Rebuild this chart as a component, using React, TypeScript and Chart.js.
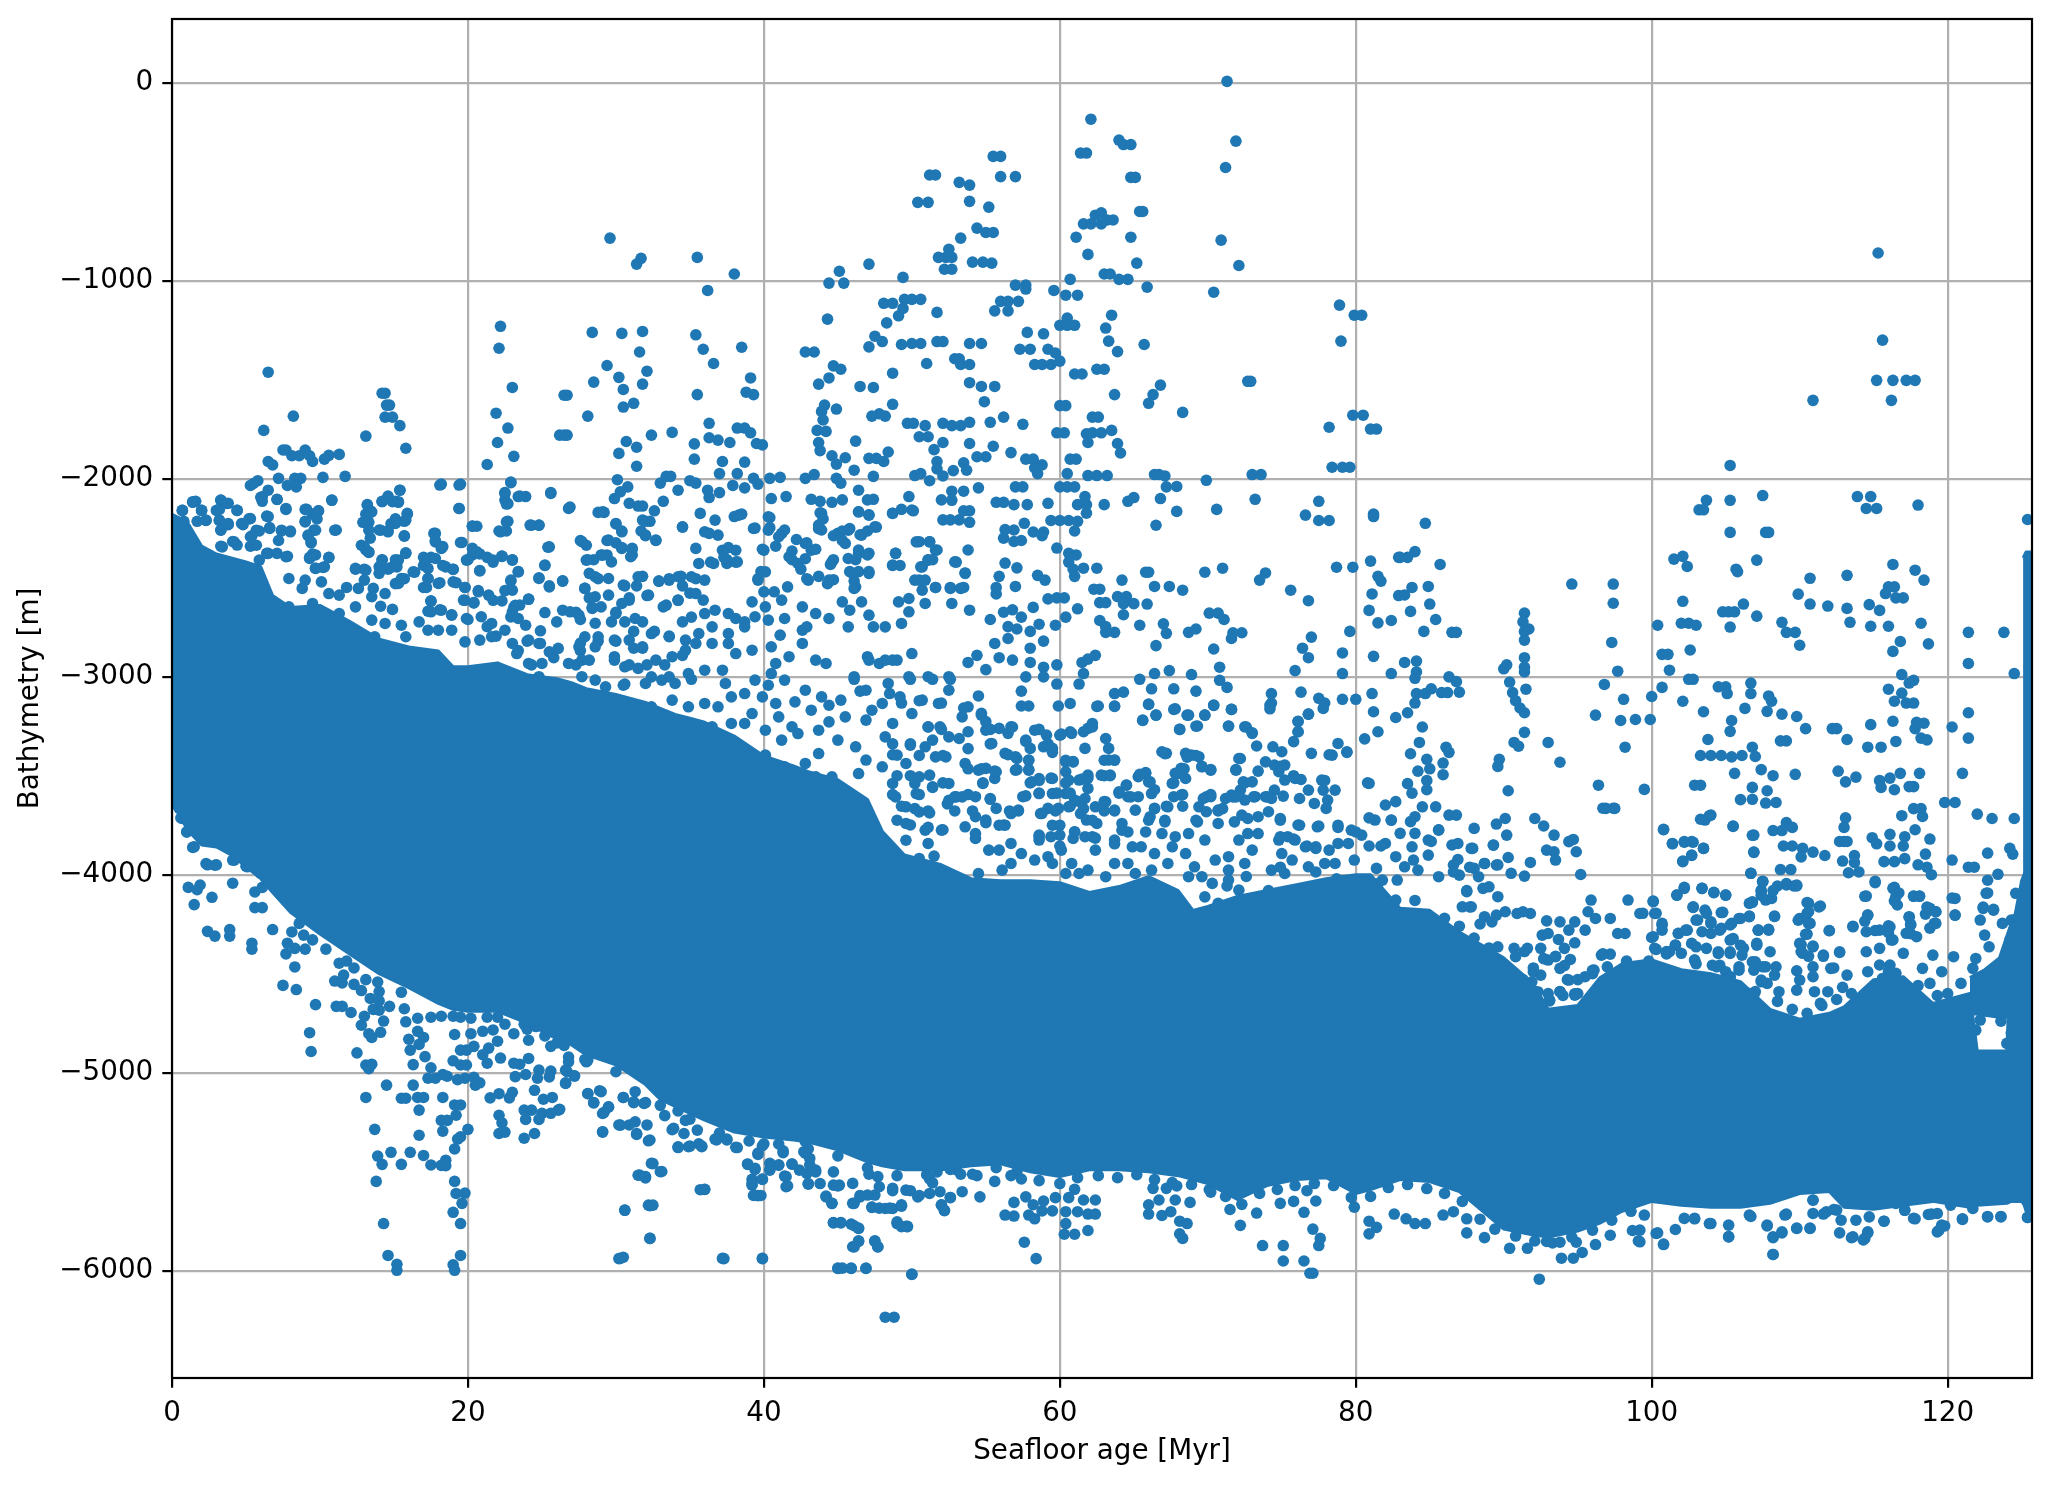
import React, { useEffect, useRef } from "react";
import { Chart, registerables } from "chart.js";

Chart.register(...registerables);

const xTitle = "Seafloor age [Myr]";
const yTitle = "Bathymetry [m]";
const xTickValues = [0, 20, 40, 60, 80, 100, 120];
const yTickValues = [0, -1000, -2000, -3000, -4000, -5000, -6000];

// dense band envelope
const bandAges = [0,1,2,3,4,5,6,6.8,8,10,12,14,16,18,19,20,22,24,26,27,28,30,32,33,34,35,36,38,40,42,43,45,47,48,49.5,52,54,56,58,60,62,64,66,68,69,70,72,74,76,78,80,81,83,85,87,90,92,93,95,96.5,98,100,102,104,106,108,110,112,113,115,117,119,121.5,122,124,124.3,125,125.7];
const bandUpper = [-2180,-2215,-2340,-2380,-2400,-2420,-2445,-2590,-2650,-2640,-2720,-2810,-2850,-2870,-2950,-2950,-2930,-2990,-3010,-3030,-3060,-3090,-3130,-3160,-3190,-3210,-3230,-3300,-3400,-3450,-3480,-3520,-3620,-3780,-3900,-3950,-4020,-4030,-4030,-4040,-4090,-4060,-4010,-4080,-4180,-4160,-4110,-4080,-4050,-4020,-4000,-4000,-4170,-4180,-4290,-4420,-4550,-4680,-4660,-4520,-4450,-4430,-4480,-4500,-4540,-4680,-4730,-4700,-4667,-4530,-4515,-4650,-4600,-4890,-4890,-4300,-4030,-3900];
const bandLower = [-3620,-3770,-3850,-3860,-3900,-3960,-4020,-4090,-4190,-4300,-4400,-4500,-4570,-4650,-4680,-4690,-4690,-4750,-4830,-4860,-4910,-4960,-5060,-5135,-5170,-5205,-5240,-5300,-5325,-5340,-5350,-5390,-5450,-5470,-5490,-5490,-5470,-5460,-5500,-5525,-5490,-5490,-5500,-5520,-5540,-5560,-5640,-5570,-5540,-5530,-5610,-5590,-5540,-5550,-5600,-5790,-5820,-5830,-5800,-5760,-5700,-5650,-5670,-5680,-5680,-5660,-5610,-5600,-5680,-5690,-5670,-5650,-5680,-5670,-5660,-5650,-5650,-5720];

// packed column at the right edge
const edgeAges = [125.1,125.3,125.7];
const edgeUpper = [-2400,-2370,-2370];
const edgeLower = [-5650,-5700,-5720];

// cap above the gap near 123 Myr
const capAges = [121.5,122.5,123.5,124.5];
const capUpper = [-4520,-4480,-4420,-4200];
const capLower = [-4700,-4710,-4720,-4720];

const edgeFuzz: number[][] = [[53,-5490],[54.4,-5520],[55.7,-5480],[57.1,-5500],[58.6,-5545],[60,-5560],[61.2,-5530],[62.6,-5520],[63.9,-5530],[65.2,-5515],[66.4,-5540],[67.6,-5555],[68.9,-5565],[70.1,-5590],[71.2,-5625],[72.3,-5665],[73.5,-5610],[74.7,-5590],[75.9,-5570],[77.2,-5560],[78.5,-5570],[79.7,-5630],[81,-5625],[82.2,-5580],[83.5,-5565],[84.8,-5585],[86,-5610],[87.2,-5650],[88.4,-5740],[89.4,-5790],[90.8,-5825],[92.1,-5850],[93.3,-5860],[94.6,-5830],[96,-5795],[97.3,-5745],[98.6,-5700],[22,-4720],[24,-4780],[26,-4850],[28,-4945],[30,-4995],[33,-5165],[35,-5235],[37,-5305],[39,-5345],[41,-5360],[43,-5385],[45,-5420],[47,-5480],[49,-5520],[51,-5515],[92,-4490],[93,-4600],[94,-4610],[95,-4600],[96,-4500],[108.5,-4640],[109.5,-4680],[110.5,-4700],[111.5,-4660],[112.5,-4630],[113.5,-4600],[119.3,-4610],[120,-4600],[116,-4490],[118,-4560],[105,-4490],[107,-4590],[101,-4400],[103,-4450],[84,-4130],[86,-4220],[88,-4320],[89,-4370],[122.2,-4734],[121.9,-4785],[124,-4852],[124.3,-4800],[123.6,-4740]];

const shallowYoung: number[][] = [[29.6,-785],[31.7,-887],[31.4,-916],[35.5,-882],[22.2,-1230],[22.1,-1341],[28.4,-1261],[30.4,-1266],[31.8,-1256],[31.6,-1360],[29.4,-1428],[30.2,-1488],[32.1,-1457],[28.5,-1512],[31.8,-1522],[30.5,-1549],[23,-1539],[26.7,-1578],[26.5,-1578],[31.2,-1619],[30.5,-1638],[21.9,-1669],[28.1,-1684],[22.7,-1744],[22,-1817],[23.1,-1887],[21.3,-1928],[26.2,-1780],[26.5,-1780],[26.7,-1780],[32.4,-1780],[33.8,-1766],[30.7,-1812],[31.4,-1841],[30.2,-1872],[31.4,-1937],[35.4,-1273],[35.5,-1575],[35.3,-1824],[35.3,-1901],[6.5,-1462],[14.2,-1568],[14.4,-1568],[14.5,-1628],[14.7,-1628],[14.4,-1689],[14.9,-1689],[15.4,-1732],[15.8,-1846],[13.1,-1785],[8.2,-1684],[6.2,-1756],[7.5,-1855],[7.7,-1855],[9,-1855],[9.3,-1884],[8.1,-1884],[8.6,-1884],[10.6,-1882],[10.3,-1901],[11.3,-1877],[9.5,-1913],[6.5,-1913],[6.8,-1930],[7.2,-1998],[8.3,-1998],[8.7,-1998],[10.2,-1993],[11.7,-1988],[5.3,-2034],[5.8,-2010],[6.5,-2058],[7.8,-2034],[8.4,-2041],[6,-2094],[6.1,-2114],[7.1,-2104],[10.8,-2109],[7.7,-2155],[9,-2155],[9.9,-2162],[9.5,-2179],[1.4,-2119],[0.7,-2160],[2,-2160],[3.2,-2155],[3.3,-2109],[3.8,-2124],[4.4,-2160],[1.6,-2114],[6.5,-2191],[2.3,-2211],[3.2,-2211],[5.2,-2203],[4.8,-2232],[3.8,-2232],[3.3,-2259],[0.8,-2215],[1.7,-2215],[8,-2264],[7.4,-2264],[6.6,-2247],[5.9,-2264],[5.4,-2288],[9,-2215],[9.8,-2203],[9.6,-2259],[9.2,-2288],[9.4,-2324],[11.1,-2259],[4.1,-2317],[3.3,-2341],[5.3,-2341],[5.7,-2336],[7.2,-2312],[6.5,-2377],[7.1,-2377],[7.8,-2392],[9.3,-2397],[9.7,-2385],[10.6,-2397],[9.7,-2452],[10.3,-2445]];

const shallowMid: number[][] = [[13.2,-2131],[13.4,-2162],[13.1,-2179],[12.9,-2220],[13.3,-2220],[14.2,-2114],[14.6,-2095],[15.1,-2114],[15.4,-2058],[15.3,-2119],[15.9,-2179],[15.1,-2203],[15.7,-2215],[14.8,-2227],[14,-2259],[14.6,-2264],[15.7,-2288],[13.4,-2300],[12.8,-2336],[13.1,-2360],[13.3,-2372],[15.8,-2377],[15.1,-2409],[14.2,-2409],[14,-2445],[14.6,-2457],[15.2,-2445],[16.4,-2472],[15.7,-2505],[15.1,-2530],[12.4,-2457],[13,-2457],[18.2,-2027],[19.5,-2027],[19.4,-2150],[22.9,-2017],[22.5,-2070],[22.7,-2126],[23.4,-2090],[23.9,-2090],[25.6,-2070],[26.9,-2143],[20.3,-2240],[20.6,-2240],[22.7,-2215],[22.1,-2264],[22.6,-2264],[24.3,-2235],[24.8,-2235],[17.7,-2276],[17.8,-2312],[19.5,-2322],[18.3,-2343],[25.4,-2346],[28.8,-2170],[29.2,-2170],[30,-2228],[30.4,-2264],[30.9,-2124],[31.5,-2138],[31.8,-2138],[32,-2215],[32.3,-2215],[32.6,-2162],[31.7,-2264],[32,-2288],[32.7,-2312],[34.5,-2244],[33.2,-2114],[33,-2022],[33.4,-1988],[33.7,-1988],[34.2,-2058],[35,-2010],[35.4,-2022],[30.1,-2005],[30.3,-2066],[29.9,-2100],[30.8,-2041],[27.6,-2312],[28,-2336],[29.4,-2312],[30,-2324],[30.4,-2348],[31.1,-2385],[31.1,-2356],[29.4,-2385],[29,-2385],[28.5,-2409],[28.1,-2409],[23,-2409],[23.4,-2469],[25.2,-2438],[24.8,-2500],[25.5,-2541],[26.4,-2517],[22.9,-2517],[22.5,-2565],[24.1,-2609],[20.3,-2385],[20.8,-2380],[20,-2409],[21.3,-2397],[21.7,-2421],[22.3,-2392],[20.8,-2464],[17,-2397],[17.5,-2397],[17,-2438],[18.3,-2438],[19,-2457],[19.2,-2525],[19.8,-2549],[17.3,-2505],[18.1,-2525],[17,-2549],[20.7,-2565],[21.7,-2614],[19.8,-2614],[20.4,-2626],[17.5,-2619],[17.3,-2669],[18.1,-2662],[18.9,-2687],[23.1,-2650],[22.9,-2698],[23.5,-2638],[28.8,-2505],[27.9,-2554],[28.2,-2602],[28.4,-2650],[27.3,-2674],[27.6,-2711],[28.6,-2730],[30.6,-2541],[31.4,-2541],[31.8,-2493],[32.9,-2517],[33.6,-2505],[34.4,-2493],[34.5,-2541],[32.1,-2590],[30.9,-2602],[30,-2674],[33.4,-2638],[34.2,-2614],[35,-2578],[35.4,-2505],[31.8,-2723],[31.2,-2771],[32.6,-2771],[33.6,-2795],[34.5,-2723],[35.1,-2699],[27.6,-2830],[28.8,-2820],[30,-2820],[31.2,-2856],[31.8,-2856],[29.9,-2916],[30.9,-2940],[32.1,-2940],[33.3,-2940],[34.5,-2892],[30.6,-3037],[32.4,-3001],[33.6,-3001],[35.1,-3013],[27.6,-2868],[28.2,-2916],[27.3,-2940],[25.8,-2904],[24,-2820],[24.9,-2832],[23.4,-2868],[24.3,-2940],[21.3,-2747],[21.9,-2795],[20,-2711]];

const fluffYoung: number[][] = [[0.7,-2160],[1.4,-2116],[2,-2160],[3.3,-2108],[3.7,-2125],[3,-2160],[4.4,-2160],[2.3,-2209],[3.2,-2209],[3.8,-2226],[3.3,-2260],[4.7,-2226],[5.3,-2201],[5.5,-2024],[6.1,-2091],[7.1,-2105],[7.7,-2150],[6.4,-2189],[5.7,-2260],[6.6,-2251],[7.4,-2260],[8,-2268],[5.3,-2293],[4.2,-2319],[3.4,-2344],[4.4,-2335],[2.5,-2386],[6.4,-2377],[7.7,-2394],[5.9,-2411],[10.8,-2108],[9.1,-2155],[9.9,-2162],[9,-2218],[9.7,-2260],[9.2,-2285],[9.4,-2319],[9.5,-2381],[10.6,-2398],[9.3,-2403],[9.7,-2453],[10.2,-2448],[11,-2260],[13.2,-2133],[13.3,-2175],[13.5,-2167],[13,-2218],[14.2,-2116],[14.6,-2088],[15.4,-2058],[15.3,-2116],[14.9,-2116],[15.9,-2175],[15.8,-2209],[15.1,-2226],[14.1,-2260],[14.6,-2268],[15.7,-2290],[13.3,-2260],[13,-2344],[13.3,-2369],[15.8,-2374],[17.8,-2276],[17.8,-2319],[18.2,-2352],[19.6,-2322],[17.2,-2403],[17.8,-2403],[14.2,-2411],[15.3,-2411],[14.8,-2448],[12.4,-2453],[13.1,-2462],[16.3,-2470],[17.3,-2453],[18.5,-2445],[19,-2458],[14,-2478],[15.3,-2529],[15.5,-2504],[13,-2512],[7.9,-2504],[9,-2512],[10.1,-2521],[17.3,-2504],[18,-2529],[19,-2521],[19.8,-2549],[17.2,-2549],[8.8,-2554],[11.8,-2549],[12.6,-2554],[13.6,-2554],[10.6,-2580],[11.3,-2588],[13.5,-2596],[14.4,-2580],[17.5,-2617],[19.7,-2613],[20.4,-2627],[20.7,-2571],[21.4,-2588],[22.3,-2617],[23,-2563],[14.1,-2644],[14.9,-2660],[17.5,-2672],[18.2,-2664],[18.9,-2689],[19.9,-2706],[20.9,-2697],[21.6,-2731],[23.2,-2639],[24.1,-2608],[23,-2672],[23.4,-2706],[23.9,-2740],[13.5,-2714],[14.4,-2731],[15.5,-2740],[16.7,-2723],[17.3,-2765],[18,-2765],[18.9,-2765],[19.8,-2824],[20.8,-2815],[21.6,-2798],[22.5,-2765],[24.9,-2768],[26,-2723],[23,-2832],[23.3,-2883],[24.1,-2815],[24.8,-2832],[26.4,-2664],[25.2,-2676],[26.9,-2672],[25.5,-2874],[26.1,-2857],[24.1,-2933],[25,-2933],[26.8,-2933],[24.8,-3000],[20.3,-2352],[20.6,-2369],[19.9,-2411],[21.7,-2411],[22.3,-2391],[23,-2411],[23.4,-2470],[22.5,-2108],[22.6,-2128],[25.5,-2344],[25.2,-2436],[24.8,-2504],[25.5,-2546],[26.4,-2516],[22.9,-2512],[20.8,-2465],[20.3,-2239],[22.2,-2268],[22.6,-2218],[24.2,-2234],[24.8,-2234],[19.4,-2150],[18.1,-2032],[19.4,-2032],[22.9,-2020],[22.5,-2074],[23.5,-2088],[25.6,-2074],[26.8,-2150],[7.9,-2647],[9.5,-2630],[7.9,-2681],[11.3,-2681],[12.4,-2647],[13.7,-2798],[15.8,-2798],[0.5,-3666],[0.7,-3716],[1,-3784],[1.5,-3859],[2.3,-3944],[2.9,-3952],[4.2,-3927],[5.1,-3960],[6,-3994]];

const fringeB1: number[][] = [[27.5,-2849],[27.9,-2798],[28.8,-2798],[29.9,-2815],[30.9,-2815],[31.8,-2849],[32.4,-2782],[33.6,-2798],[34.7,-2815],[35.6,-2782],[36.5,-2748],[37.6,-2782],[38.7,-2748],[27.7,-2916],[28.6,-2849],[29.9,-2899],[30.6,-2950],[31.5,-2958],[32.7,-2916],[33.8,-2899],[34.7,-2866],[35.4,-2832],[36.5,-2832],[37.6,-2832],[38.1,-2883],[39.2,-2866],[40.5,-2849],[40.8,-2933],[41.7,-2899],[42.6,-2832],[43.5,-2916],[44.2,-2933],[40.5,-2984],[41.4,-3017],[42.8,-3068],[43.9,-3102],[45.2,-3118],[46.1,-3000],[46.9,-3068],[47,-2899],[47.8,-2933],[48.7,-2916],[50,-2883],[49.8,-3000],[51.1,-3000],[52.5,-3000],[52.5,-3068],[48.4,-3034],[49.2,-3102],[50.7,-3118],[51.8,-3135],[48,-3135],[50,-3186],[53.4,-3203],[53.8,-3152],[27.7,-3000],[28.6,-3017],[29.3,-3051],[30.5,-3043],[32,-3034],[33.1,-3017],[34,-3034],[34.9,-2984],[36,-2967],[37.2,-2967],[37.4,-3034],[39.4,-3017],[40.3,-3043],[37.8,-3102],[38.7,-3085],[39.9,-3102],[40.8,-3135],[42.1,-3127],[43.2,-3169],[44.4,-3144],[45.5,-3203],[46.9,-3219],[48.7,-3236],[47.3,-3169],[44.4,-3228],[41.9,-3253],[41,-3203],[39.2,-3186],[36.9,-3152],[36,-3135],[34.9,-3152],[33.8,-3118],[32.4,-3152],[31.1,-3152],[29.7,-3152],[28.6,-3152],[37.8,-3236],[38.7,-3236],[36.5,-3253],[35.1,-3270],[33.8,-3253],[32.4,-3253],[40.1,-3270],[41.2,-3320],[42.3,-3287],[43.7,-3270],[45,-3320],[46.2,-3354],[48.2,-3304],[51.1,-3253],[51.9,-3253],[51.4,-3320],[52.5,-3304],[53.2,-3312],[50.9,-3354],[49.9,-3346],[51.6,-3405],[52.3,-3405],[53.8,-3363],[49,-3396],[49.6,-3438],[53.6,-3438],[46.9,-3421],[48,-3455],[50.5,-3506],[51.2,-3497],[52.5,-3539],[51.4,-3556],[50.2,-3539],[48.9,-3607],[50.3,-3590],[49.6,-3657],[50.5,-3683],[51.2,-3688],[48.7,-3539],[46.4,-3489],[43.7,-3388],[40.1,-3396],[41.4,-3455],[42.8,-3438],[41.7,-3590],[43.5,-3506],[44.6,-3506],[42.8,-3556],[44.4,-3624],[41.7,-3674],[50.9,-3775],[49.6,-3741],[52.9,-3607],[52.5,-3624],[53.4,-3607],[52,-3775],[51.1,-3842],[53.6,-3758],[49.6,-3826],[51.5,-3906],[50.5,-3918]];

const fringeB2: number[][] = [[29.1,-2167],[30,-2226],[30.4,-2268],[31.8,-2209],[32,-2285],[32.7,-2310],[27.7,-2318],[34.5,-2243],[35.7,-2175],[36.7,-2209],[36,-2268],[36.9,-2285],[38.3,-2184],[39.3,-2251],[40.3,-2192],[40.3,-2260],[41.2,-2276],[42.8,-2327],[41.7,-2394],[43.2,-2361],[43.9,-2175],[43.7,-2234],[46.4,-2167],[47.1,-2184],[48.7,-2175],[50,-2158],[45,-2276],[45.7,-2260],[46.6,-2285],[47.5,-2243],[45.5,-2327],[46.4,-2377],[44.6,-2420],[45.7,-2403],[47.1,-2377],[48.9,-2377],[48.7,-2436],[50.5,-2318],[51.2,-2318],[51.6,-2361],[51.1,-2411],[50.7,-2445],[52.9,-2420],[53.6,-2478],[50.5,-2512],[51.6,-2549],[52.6,-2554],[53.3,-2554],[52.7,-2630],[50.7,-2563],[49.8,-2605],[49.1,-2622],[50.9,-2630],[49.8,-2672],[49.3,-2731],[48.2,-2748],[47.4,-2748],[47.1,-2689],[53.9,-2664],[45.7,-2748],[45.8,-2664],[45.3,-2622],[46.6,-2622],[46,-2478],[46.2,-2546],[47.1,-2478],[44.4,-2512],[43,-2512],[42.3,-2428],[40,-2361],[40.1,-2470],[39.6,-2512],[41.6,-2546],[40,-2571],[40.7,-2571],[39.2,-2622],[40.1,-2647],[41.2,-2613],[41.4,-2706],[42.6,-2647],[43.5,-2681],[44.4,-2706],[42.6,-2765],[42.9,-2748],[41.1,-2790],[40.3,-2714],[38.7,-2723],[39.4,-2697],[37.6,-2681],[38.1,-2706],[36.7,-2664],[36,-2681],[34.2,-2495],[33.6,-2512],[32.9,-2517],[31.5,-2495],[30.5,-2537],[29.5,-2504],[28.6,-2495],[28.2,-2478],[27.9,-2554],[28.6,-2596],[29.5,-2588],[29,-2647],[28.4,-2655],[27.5,-2689],[30,-2681],[30.9,-2613],[30.4,-2630],[29.7,-2723],[30.6,-2723],[31.3,-2706],[32.2,-2588],[33.2,-2647],[34.2,-2613],[35.4,-2580],[35.1,-2495],[36,-2512],[35.9,-2613],[35.6,-2428],[36.6,-2428],[37.5,-2428],[38.2,-2420],[36.3,-2276],[37.2,-2361],[38.1,-2361],[35.4,-2352],[28,-2411],[29.1,-2386],[29.7,-2420],[31.1,-2352],[31,-2394],[29.5,-2310],[30.4,-2352]];

const fringeC1: number[][] = [[54.5,-3994],[55.2,-3876],[55.9,-3876],[56.7,-3842],[57.4,-3893],[56.7,-3943],[56.1,-3977],[58.6,-3825],[58.3,-3926],[59.2,-3909],[60.1,-3876],[59.5,-3943],[60.8,-3943],[60.4,-3994],[61.3,-3994],[61.9,-3977],[62.4,-3876],[61.7,-3808],[63.7,-3825],[64.2,-3775],[64.9,-3859],[65.5,-3859],[63.7,-3943],[64.6,-3943],[63.1,-4010],[65.1,-3994],[66.4,-3893],[67.3,-3943],[66.2,-3977],[66.9,-3792],[67.8,-3808],[68.7,-3792],[68.5,-3893],[67.6,-3859],[69.1,-3960],[69.8,-3825],[70.5,-3926],[71.4,-3909],[72.1,-3825],[72.7,-3792],[73.4,-3792],[73,-3876],[74.8,-3825],[75.4,-3808],[75,-3893],[75.9,-3825],[76.6,-3859],[77.3,-3859],[75.7,-3926],[74.3,-3977],[75.2,-3994],[76.8,-3960],[77.9,-3943],[78.8,-3842],[79.5,-3842],[78.2,-3876],[78.6,-3943],[79.7,-3775],[80.4,-3800],[79.9,-3926],[71.4,-3977],[72.5,-3943],[70.3,-4044],[69.6,-4010],[68.7,-4010],[71.4,-4027],[72.1,-4078],[69.8,-4112],[70.7,-4145],[78.8,-3750],[77.4,-3758],[76.2,-3750],[54.3,-3606],[55.3,-3615],[55.7,-3665],[56.7,-3691],[57.2,-3674],[54.3,-3707],[55,-3724],[55.9,-3750],[56.3,-3750],[54.3,-3792],[54.3,-3817],[57.5,-3606],[58.6,-3590],[59.5,-3590],[60.4,-3590],[61,-3623],[61.7,-3615],[58.7,-3691],[59.2,-3665],[59.9,-3665],[60.6,-3657],[61.4,-3691],[61.8,-3724],[62.5,-3741],[59.5,-3750],[60,-3750],[58.6,-3800],[60,-3800],[61,-3783],[60.9,-3817],[62.2,-3808],[62.4,-3657],[63.1,-3632],[63.7,-3674],[65.1,-3674],[64.2,-3741],[64.6,-3606],[64,-3581],[64.5,-3547],[65.3,-3606],[66.2,-3590],[66,-3531],[65.3,-3505],[65.8,-3488],[66.4,-3665],[67.3,-3657],[67.7,-3606],[68.2,-3598],[66.1,-3707],[67.1,-3733],[69.4,-3657],[69.7,-3615],[70.2,-3606],[69.9,-3682],[70.7,-3674],[69.3,-3733],[70.7,-3741],[71.8,-3733],[72.3,-3699],[72.7,-3716],[71.2,-3615],[71.6,-3598],[72.2,-3573],[72.4,-3531],[73,-3531],[72.5,-3623],[73.2,-3606],[73.9,-3606],[74.5,-3573],[75.1,-3603],[74.3,-3615],[73.4,-3707],[74.1,-3682],[74.9,-3716],[76.2,-3615],[76.8,-3573],[77.2,-3640],[77.8,-3573],[78.6,-3573],[78.1,-3623],[78,-3665],[77.7,-3522],[80.9,-3539],[75.9,-3514],[76.3,-3519],[75.2,-3522],[74.8,-3480],[75.2,-3446],[73.9,-3430],[74.5,-3446]];

const fringeC2: number[][] = [[66.9,-3379],[67.2,-3387],[68.5,-3387],[68.9,-3396],[69.4,-3404],[69.6,-3455],[70.2,-3472],[68.2,-3463],[68.5,-3514],[67.8,-3488],[67.6,-3539],[72.1,-3413],[71.9,-3472],[77,-3387],[78.4,-3396],[78.8,-3337],[79.4,-3379],[75.8,-3328],[76.1,-3278],[76.1,-3227],[76.8,-3189],[73.3,-3350],[74.4,-3354],[75,-3379],[61.7,-3362],[63.3,-3362],[63.3,-3421],[63.7,-3421],[62.8,-3497],[63.4,-3497],[60.4,-3430],[60.9,-3430],[60.4,-3480],[60.6,-3522],[61.9,-3497],[61.3,-3522],[61.9,-3564],[58.1,-3531],[58.6,-3514],[59.5,-3514],[57.9,-3472],[57.9,-3421],[57,-3472],[56.3,-3387],[57,-3404],[55.4,-3337],[54.5,-3472],[55,-3463],[55.7,-3480],[54.8,-3539],[55.6,-3514],[57.7,-3320],[58,-3362],[58.9,-3354],[59.5,-3362],[58.3,-3270],[59.1,-3295],[60,-3295],[60.8,-3286],[61.9,-3261],[62.2,-3236],[63.1,-3312],[56.5,-3286],[56.7,-3253],[55.9,-3261],[55,-3270],[54.7,-3185],[55,-3227],[57.4,-3148],[57.9,-3148],[59.9,-3148],[60.7,-3135],[62.6,-3148],[63.7,-3148],[66,-3140],[65.6,-3219],[66.5,-3194],[67.7,-3165],[68.7,-3194],[69.8,-3194],[70.4,-3143],[71.6,-3165],[68.1,-3266],[69.3,-3249],[71.4,-3249],[72.5,-3253],[73,-3286],[74.2,-3143],[77.8,-3160]];

const fringeD: number[][] = [[84,-3707],[82.4,-3724],[81.3,-3724],[82,-3648],[82.7,-3631],[84.5,-3657],[85.4,-3657],[83.7,-3732],[86.3,-3699],[86.8,-3699],[84,-3791],[83,-3791],[85.6,-3775],[82,-3842],[84.9,-3825],[83.8,-3859],[86.5,-3850],[86.9,-3842],[82.7,-3909],[84.9,-3901],[83.9,-3926],[83.3,-3960],[81.4,-3968],[84.2,-3977],[86.9,-3923],[86.6,-3951],[88,-3968],[88.3,-4010],[87,-4002],[85.6,-4010],[81.8,-4027],[82.8,-4027],[89,-4061],[89.6,-4111],[88.6,-4069],[87.5,-4086],[87.8,-4162],[87.2,-4162],[88.7,-4212],[89.2,-4238],[88.4,-4249],[90.1,-4187],[89.5,-4204],[90.9,-4196],[91.8,-4196],[91.3,-4187],[87,-4260],[90.7,-4372],[91.6,-4372],[92.6,-4305],[92.5,-4372],[92.9,-4233],[93.8,-4238],[94.8,-4238],[94.4,-4280],[93,-4297],[93.7,-4327],[94.1,-4372],[94.8,-4344],[95.5,-4280],[95.7,-4187],[96.2,-4221],[97.2,-4221],[95.9,-4128],[98.4,-4128],[100.1,-4133],[99.2,-4196],[100.2,-4196],[100.7,-4255],[100.1,-4313],[97.7,-4297],[98.2,-4297],[100.2,-4372],[101,-4398],[96.6,-4406],[97.2,-4401],[94.5,-4428],[93.5,-4414],[93,-4431],[93.8,-4473],[92.5,-4507],[91.9,-4541],[92.3,-4591],[93.8,-4591],[93.1,-4633],[92.2,-4654],[92.7,-4718],[94.4,-4532],[94.8,-4608],[95.5,-4515],[96.1,-4482],[97,-4465],[89.6,-4364],[90.8,-4414],[88.7,-4406],[90.3,-4532],[91.1,-4532],[88,-4465],[101.7,-4103],[102.2,-4064],[103.4,-4069],[104.2,-4089],[105,-4103],[102.8,-4162],[104.7,-4191],[103.6,-4179],[104,-4238],[103,-4229],[103.4,-4288],[101.8,-4297],[102.4,-4280],[106.8,-4137],[107.4,-4078],[106.6,-4212],[106,-4221],[105.4,-4246],[104.7,-4271],[107.2,-4280],[107.9,-4280],[104,-4297],[105.3,-4330],[102.7,-4347],[101.6,-4356],[104.5,-4398],[106,-4356],[107.1,-4356],[102.9,-4431],[104.1,-4457],[104.6,-4457],[105.3,-4398],[106.1,-4406],[107,-4440],[107.7,-4465],[105.9,-4465],[105.3,-4516],[106.9,-4482],[107.4,-4541],[106.9,-4608],[107.8,-4549],[88,-3766],[89.5,-3744],[90.1,-3716],[90.2,-3800],[89.3,-3850],[87.8,-3867],[90.3,-3913],[88.7,-3943],[89.5,-3951],[91.8,-3938],[90.5,-3993],[91.4,-4007],[95.2,-3999],[92.9,-3876],[93.4,-3884],[93.5,-3926],[94.9,-3884],[94.4,-3833],[94.7,-3822],[93.4,-3800],[92.7,-3754],[92.1,-3716],[96.9,-3665],[97.5,-3665],[100.8,-3771],[101.4,-3842],[102.2,-3833],[102.7,-3833],[103.5,-3867],[102.7,-3901],[102.1,-3931],[103.6,-3724],[104,-3699],[105.5,-3754],[106.9,-3800],[106.9,-3887],[106.7,-3993],[107.5,-4036]];

const fringeE: number[][] = [[102.2,-4069],[101.7,-4103],[103.4,-4069],[104.2,-4091],[105,-4103],[100.1,-4136],[100.3,-4195],[99.4,-4195],[100.7,-4246],[100.7,-4280],[100,-4317],[100.3,-4377],[108.3,-4209],[107.2,-4280],[107.9,-4276],[104.8,-4190],[102.8,-4165],[103.7,-4195],[103.1,-4229],[104,-4246],[106.6,-4209],[105.9,-4221],[105.3,-4254],[104.6,-4280],[101.8,-4296],[102.3,-4280],[101.6,-4355],[101.2,-4389],[102,-4397],[102.9,-4431],[103.7,-4372],[103,-4364],[104.5,-4389],[105.5,-4322],[107.1,-4347],[106.2,-4372],[105.3,-4389],[108,-4389],[108.4,-4465],[106.8,-4440],[107.5,-4465],[105.9,-4482],[105.3,-4515],[104.4,-4465],[108.3,-4507],[107.4,-4532],[108.6,-4591],[106.6,-4600],[110,-4221],[110.7,-4246],[110.6,-4145],[110.5,-4195],[111.4,-4158],[110.5,-4300],[112,-4283],[113.6,-4263],[114.5,-4288],[114.6,-4204],[115.4,-4280],[116.1,-4263],[116.2,-4330],[114.5,-4389],[115.4,-4372],[117,-4397],[117.2,-4296],[117.9,-4313],[117.4,-4212],[117.5,-4254],[119.1,-4246],[118.8,-4170],[119.2,-4187],[114.5,-4108],[115.1,-4040],[116.4,-4064],[116.5,-4111],[116.6,-4153],[117.7,-4108],[118.1,-4108],[120.5,-4120],[120.5,-4204],[120.4,-4414],[118.3,-4473],[119,-4406],[115.4,-4456],[116.1,-4456],[119.6,-4490],[118.8,-4549],[110,-4347],[110.2,-4397],[110.9,-4364],[111.6,-4406],[112.7,-4389],[112.1,-4473],[110.9,-4465],[109.8,-4485],[110.9,-4515],[110,-4532],[109.8,-4583],[111,-4591],[111.4,-4650],[111.9,-4591],[112.9,-4569],[113.2,-4507],[114.6,-4490],[115.6,-4524],[116.5,-4498],[122.6,-4094],[122.4,-4170],[123.1,-4179],[122.2,-4229],[122.5,-4305],[122.8,-4364],[124.2,-4330],[121.9,-4423],[121.7,-4473],[120.9,-4549],[124.3,-4229],[124.6,-4094],[125.1,-4195],[123.7,-4246],[107.5,-4035],[107.4,-4086],[106.6,-4145],[108.1,-4120],[109.1,-4052],[109.8,-4052],[99.5,-5719],[100.3,-5812],[100.8,-5868],[101.6,-5792],[102.2,-5736],[102.9,-5736],[103.9,-5762],[105.2,-5770],[105.2,-5829],[106.6,-5719],[107.8,-5770],[108.2,-5829],[108.8,-5804],[108.2,-5918],[109.8,-5787],[110.7,-5787],[109,-5719],[110.9,-5711],[111.8,-5703],[112.5,-5694],[110.9,-5644],[112.8,-5745],[113.6,-5829],[114.4,-5837],[114.6,-5804],[115.7,-5750],[113.8,-5745],[114.7,-5728],[117.7,-5736],[117.1,-5694],[119.3,-5804],[119.6,-5770],[119.3,-5711],[121,-5741],[122.7,-5728],[123.6,-5728],[125.4,-5731],[116.5,-5660],[118.7,-5716],[120.2,-5669],[121.7,-5686],[99.2,-5795],[99.2,-5854]];

const fringeF: number[][] = [[28.1,-4936],[26.7,-4995],[27.2,-5017],[26.6,-5054],[28.1,-5105],[28.9,-5091],[28.5,-5152],[29.5,-5172],[29.1,-5206],[30.5,-5125],[31.3,-5096],[31.2,-5147],[31.9,-5155],[30.3,-5265],[31.3,-5248],[31.4,-5307],[32.2,-5344],[33.9,-5281],[34.6,-5307],[35.5,-5290],[34.2,-5374],[34.9,-5374],[35.8,-5374],[36.8,-5340],[37.5,-5340],[38.1,-5377],[39.6,-5413],[39.9,-5369],[38.9,-5463],[39.4,-5483],[40.4,-5458],[41,-5467],[40.4,-5492],[39.2,-5539],[39.9,-5539],[39.2,-5568],[39.6,-5621],[41.3,-5404],[41.9,-5462],[42.7,-5399],[43.1,-5433],[42.4,-5492],[42.9,-5509],[41.4,-5522],[41.5,-5576],[43,-5563],[43.5,-5492],[44.2,-5623],[44.6,-5660],[46,-5660],[46.5,-5627],[47,-5618],[47.5,-5618],[47.3,-5680],[48.2,-5686],[48.7,-5686],[49.3,-5674],[51.9,-5601],[52.6,-5630],[52,-5669],[52.2,-5697],[49,-5753],[49.3,-5778],[49.7,-5778],[45.9,-5765],[46.4,-5787],[44.7,-5758],[45.2,-5758],[46.4,-5849],[46,-5879],[47.5,-5849],[47.7,-5879],[45,-5989],[45.9,-5989],[46.9,-5989],[50,-6019],[37.2,-5938],[39.9,-5938],[30.3,-5938],[32.3,-5837],[30.6,-5694],[32.3,-5672],[36,-5590],[32.4,-5458],[33,-5500],[31.6,-5517],[32,-5531],[29.1,-5298],[26.2,-5185],[47.8,-5576],[48.7,-5584],[49.6,-5593],[50.4,-5627],[51.2,-5610],[51.4,-5556],[44.7,-5568],[45.1,-5568],[46,-5559]];

const topMid: number[][] = [[71.3,7],[62.1,-184],[64,-290],[64.3,-312],[64.8,-312],[71.9,-295],[61.4,-355],[61.8,-355],[55.5,-372],[56,-372],[71.2,-428],[51.2,-466],[51.6,-466],[56,-474],[57,-474],[53.2,-503],[53.9,-517],[50.4,-604],[51.1,-604],[53.9,-599],[55.2,-628],[64.8,-478],[65.1,-478],[65.4,-650],[65.6,-650],[62.4,-669],[62.8,-657],[63.2,-693],[63.6,-693],[61.6,-713],[62.1,-713],[62.8,-713],[54.4,-734],[55,-756],[55.5,-756],[53.3,-785],[61.1,-780],[64.8,-780],[70.9,-795],[52.5,-841],[51.8,-882],[52.3,-882],[52.7,-882],[61.9,-867],[72.1,-923],[52.2,-942],[52.7,-942],[54.1,-906],[54.8,-906],[55.4,-911],[65.2,-911],[45.1,-952],[47.1,-916],[38,-966],[63,-966],[63.4,-966],[44.4,-1012],[45.4,-1012],[49.4,-983],[60.7,-993],[64,-993],[64.6,-993],[57,-1022],[57.7,-1022],[57.7,-1042],[59.6,-1049],[65.9,-1032],[36.2,-1049],[60.4,-1073],[61.2,-1073],[70.4,-1058],[49.5,-1094],[50,-1094],[50.6,-1094],[56,-1104],[56.5,-1104],[57.2,-1104],[48.1,-1114],[48.7,-1114],[49.4,-1140],[55.6,-1152],[56.5,-1152],[51.7,-1160],[49.1,-1177],[63.5,-1174],[44.3,-1194],[48.3,-1213],[60.5,-1189],[60,-1225],[60.5,-1225],[61,-1225],[63.1,-1239],[57.8,-1261],[58.9,-1268],[47.5,-1280],[63.3,-1305],[48,-1307],[47.1,-1334],[49.3,-1322],[50,-1317],[50.6,-1317],[51.7,-1307],[52.1,-1307],[53.9,-1317],[54.7,-1317],[65.7,-1322],[57.3,-1346],[58,-1346],[59.2,-1346],[59.7,-1365],[63.9,-1358],[42.8,-1360],[43.4,-1360],[38.5,-1336],[35.9,-1346],[36.6,-1418],[52.9,-1394],[53.2,-1394],[51,-1418],[53.3,-1423],[53.9,-1423],[58.3,-1423],[58.8,-1423],[59.4,-1423],[60,-1406],[61,-1471],[61.5,-1471],[62.5,-1447],[63,-1447],[48.7,-1467],[44.7,-1430],[45.2,-1447],[44.4,-1491],[43.7,-1522],[39.1,-1491],[38.8,-1563],[39.3,-1575],[46.5,-1534],[47.4,-1539],[53.9,-1515],[54.7,-1534],[55.6,-1534],[72.7,-1508],[72.9,-1508],[66.8,-1527],[66.3,-1575],[66,-1619],[63.7,-1575],[54.9,-1611],[48.7,-1624],[60,-1631],[60.4,-1631],[44.1,-1628],[44.9,-1648],[43.9,-1660],[44,-1703],[47.8,-1672],[47.3,-1684],[48.2,-1684],[68.3,-1665],[56.2,-1689],[62.6,-1689],[62.2,-1689],[49.7,-1720],[50.1,-1720],[52.1,-1720],[52.7,-1732],[53.3,-1732],[53.9,-1715],[55.3,-1715],[57.5,-1725],[50.9,-1732],[36.3,-1720],[38.2,-1744],[38.7,-1744],[39.1,-1768],[43.6,-1756],[44.2,-1761],[59.8,-1768],[60.3,-1768],[61.8,-1773],[62.2,-1768],[62.8,-1768],[63.5,-1756],[50.5,-1788],[51.1,-1788],[36.3,-1793],[36.9,-1805],[37.7,-1817],[39.5,-1822],[39.9,-1829],[46.2,-1810],[52.1,-1817],[53.9,-1822],[43.7,-1817],[43.8,-1858],[55.5,-1836],[61.9,-1817],[63.9,-1822],[64.1,-1870],[51.5,-1853],[56.7,-1868],[48.4,-1865],[54.4,-1889],[55,-1889],[44.6,-1884],[45.5,-1894],[47.1,-1897],[47.6,-1897],[57.7,-1901],[58.2,-1901],[61.1,-1901],[60.7,-1901],[48.1,-1913],[51.7,-1913],[37.2,-1913],[38.7,-1916],[53.5,-1920],[58.8,-1930],[58.3,-1945],[44.9,-1926],[51.7,-1950],[46.1,-1957],[52.8,-1959],[53.7,-1957],[37,-1974],[38.2,-1974],[58.5,-1974],[60.5,-1974],[66.4,-1979],[66.7,-1979],[67.1,-1986],[61.9,-1984],[62.5,-1984],[63.2,-1984],[73,-1979],[73.6,-1979],[69.9,-2008],[78.4,-1942],[79.1,-1942],[79.6,-1942],[78.2,-1740],[79.8,-1679],[80.5,-1679],[81,-1749],[81.4,-1749],[78.9,-1123],[79.9,-1174],[80.4,-1174],[79,-1305]];

const upperMid: number[][] = [[40.4,-1998],[41.1,-1993],[42.8,-1998],[43.4,-1979],[44.9,-1998],[45.2,-2022],[47.4,-1988],[50.2,-1984],[50.6,-1974],[51.2,-2010],[52.1,-1986],[39.3,-1998],[37.9,-2034],[38.7,-2046],[39.6,-2027],[36.2,-2058],[37,-2070],[36.3,-2095],[40.5,-2100],[41.5,-2090],[43.2,-2104],[43.8,-2114],[44.6,-2119],[45.3,-2107],[46.4,-2058],[47,-2107],[47.4,-2104],[49.8,-2090],[52.7,-2063],[53.5,-2063],[52,-2107],[52.7,-2109],[54.5,-2046],[57,-2041],[57.5,-2041],[60,-2041],[60.5,-2041],[61,-2041],[61.7,-2090],[63,-2131],[61.2,-2131],[61.8,-2131],[64.6,-2114],[65,-2095],[66.8,-2100],[67.2,-2041],[67.9,-2039],[73.2,-2104],[77.5,-2114],[70.6,-2155],[67.9,-2165],[55.7,-2119],[56.2,-2119],[56.9,-2131],[57.8,-2131],[59.2,-2124],[76.6,-2184],[77.5,-2211],[78.2,-2211],[81.2,-2179],[81.2,-2191],[48.7,-2174],[49.3,-2155],[50.1,-2162],[46.4,-2167],[47.1,-2182],[43.8,-2172],[44,-2203],[43.7,-2252],[43.9,-2259],[40.4,-2196],[40.4,-2247],[38.5,-2179],[38,-2191],[52.1,-2208],[52.6,-2208],[53.2,-2208],[53.9,-2220],[53.5,-2162],[53.9,-2162],[59.4,-2211],[60,-2211],[60.6,-2211],[61.2,-2215],[61.8,-2174],[57.6,-2225],[66.5,-2235],[39.4,-2249],[47.6,-2244],[47,-2264],[46.5,-2283],[61,-2264],[56.3,-2257],[56.9,-2259],[58.2,-2269],[58.9,-2269],[58.8,-2288],[56.2,-2300],[56.9,-2317],[57.4,-2312],[41.4,-2259],[41,-2293],[44.7,-2288],[45.3,-2264],[45.8,-2252],[45.3,-2312],[42.2,-2307],[42.9,-2324],[43.5,-2356],[50.3,-2319],[51.2,-2319],[51.7,-2360],[39.9,-2356],[40.8,-2341],[53.8,-2360],[59.8,-2350],[37.6,-2348],[37.3,-2397],[41.9,-2365],[41.9,-2409],[42.8,-2404],[46.4,-2360],[47,-2385],[46.2,-2409],[44.7,-2409],[44.5,-2433],[48.9,-2377],[48.7,-2438],[49.2,-2438],[51.4,-2409],[50.6,-2445],[51.1,-2409],[60.6,-2377],[61.1,-2385],[60.6,-2421],[60.9,-2457],[61.6,-2452],[61,-2493],[62.5,-2452],[53,-2421],[56.3,-2426],[57.1,-2450],[37.5,-2409],[38.1,-2421],[36.4,-2421],[45.8,-2469],[46.4,-2469],[47.1,-2469],[46.1,-2517],[46.1,-2554],[53.6,-2476],[58.5,-2488],[59,-2512],[42.5,-2457],[42.9,-2505],[43.7,-2493],[44.7,-2510],[44.3,-2530],[39.8,-2469],[39.6,-2505],[50.2,-2512],[50.9,-2512],[51.6,-2549],[52.6,-2549],[53.5,-2549],[55.9,-2493],[55.7,-2549],[55.7,-2582],[57,-2544],[64.2,-2512],[62.3,-2558],[62.7,-2558],[65.8,-2472],[66,-2472],[66.4,-2544],[67.4,-2544],[68.3,-2563],[69.8,-2472],[71,-2452],[73.5,-2512],[73.9,-2476],[75.6,-2563],[76.8,-2616],[78.7,-2447],[79.8,-2447],[81,-2416],[82.9,-2397],[81.5,-2493],[81.7,-2517],[81.1,-2582],[82.9,-2590],[59.2,-2607],[59.8,-2602],[60.3,-2602],[63.9,-2595],[64.5,-2595],[64.3,-2631],[65,-2631],[62.7,-2626],[63.1,-2626],[65.9,-2633],[80.9,-2665],[81.5,-2728],[82.4,-2716],[70.1,-2679],[70.7,-2679],[71.1,-2711],[61.2,-2657],[60.4,-2699],[64.3,-2687],[62.7,-2716],[63.1,-2747],[63.7,-2776],[63.1,-2776],[65.4,-2740],[67,-2733],[67.2,-2781],[68.7,-2776],[69.2,-2759],[71.6,-2807],[72.3,-2778],[71.7,-2778],[79.6,-2771],[77,-2800],[59.7,-2740],[66.5,-2843],[70.4,-2860],[76.4,-2856],[79.1,-2880],[81.2,-2897],[76.8,-2904],[61.9,-2911],[62.4,-2892],[61.5,-2928],[70.8,-2952],[75.9,-2969],[79.1,-2984],[82.4,-2984],[68.9,-2989],[66.4,-2984],[67.4,-2969],[65.4,-3013],[61.6,-2984],[70.8,-3018],[71.3,-3054],[67.7,-3061],[69.2,-3073],[63.7,-3085],[64.3,-3078],[66.2,-3061],[74.3,-3085],[74.3,-3133],[74.2,-3162],[76.3,-3078],[77.5,-3109],[77.9,-3133],[79.1,-3114],[80,-3114],[81.1,-3085],[62.5,-3150],[63.7,-3150],[66,-3138],[67.8,-3162],[68.6,-3194],[69.8,-3194],[70.4,-3145],[71.6,-3165],[66.5,-3194],[65.6,-3221],[76.8,-3189],[76.1,-3225],[81.2,-3177],[82.7,-3206],[69.2,-3250],[68.1,-3266],[71.4,-3250],[72.6,-3254],[73,-3283],[76.1,-3278],[81.5,-3278],[62.2,-3254],[61.6,-3278],[60.7,-3278],[60.1,-3290],[80.6,-3314]];

const clusterMid: number[][] = [[56.2,-2674],[56.8,-2662],[57.4,-2699],[58.2,-2650],[58.6,-2735],[58,-2771],[55.3,-2711],[56.5,-2747],[57.1,-2759],[55.6,-2832],[56.5,-2807],[58,-2856],[58.9,-2820],[54.4,-2892],[53.8,-2928],[55,-2964],[55.9,-2904],[56.8,-2916],[58,-2928],[58.9,-2952],[59.8,-2940],[57.7,-3001],[58.9,-3001],[59.8,-3037],[61.3,-3037],[57.4,-3073],[54.5,-3097],[52.6,-3013],[51.4,-3013],[49.9,-3013],[50.5,-3121],[52,-3133],[49.3,-3133],[48.5,-3085],[48.2,-2916],[47.1,-2916],[49,-2916],[46.1,-3013],[46.5,-3073],[53.5,-3158],[54.7,-3194],[53.8,-3278],[55.3,-3266],[56.8,-3254],[58.6,-3266],[52,-3266],[51.1,-3254],[49.9,-3339],[48.7,-3339],[55.3,-3339],[57.7,-3327],[59.2,-3339]];

const fringeMid: number[][] = [[48.7,-3394],[50.5,-3398],[52.1,-3398],[53.8,-3465],[54.7,-3465],[55.6,-3477],[54.8,-3536],[56.5,-3394],[57.1,-3413],[57.9,-3422],[57.1,-3469],[57.9,-3469],[59.5,-3382],[60.4,-3422],[60.9,-3429],[58.6,-3524],[59.4,-3512],[60.4,-3536],[61.5,-3517],[61.9,-3512],[58,-3536],[57.7,-3602],[58.6,-3588],[59.8,-3588],[60.7,-3588],[63,-3500],[63.4,-3500],[63,-3422],[63.7,-3422],[67.1,-3389],[68.6,-3406],[69.2,-3398],[72.2,-3413],[71.9,-3469],[69.6,-3453],[70.2,-3469],[68.4,-3465],[68,-3488],[67.7,-3536],[68.3,-3595],[65.8,-3484],[65.4,-3493],[66.1,-3531],[64.5,-3548],[64.8,-3607],[64,-3588],[66.4,-3571],[63,-3630],[49,-3500],[49.9,-3500],[51.4,-3559],[52.1,-3536],[50.5,-3595],[48.7,-3595],[49.3,-3654],[50.2,-3666],[51.1,-3678],[49,-3725],[49.9,-3749],[51.1,-3761],[52.1,-3773],[52.9,-3678],[53.8,-3595],[53,-3607],[52.4,-3642],[55.3,-3619],[54.1,-3678],[55,-3737],[56.2,-3749],[56.6,-3678],[57.2,-3678],[58.8,-3690],[59.7,-3678],[60.7,-3654],[62.2,-3725],[61.6,-3666],[61.3,-3630],[63.7,-3678],[63,-3678],[58.6,-3808],[59.4,-3808],[60,-3855],[61,-3784],[62.4,-3815],[63.7,-3844],[64.6,-3784],[65.8,-3784],[66.4,-3666],[67.2,-3654],[67.1,-3725],[66,-3725],[68.3,-3654],[69.2,-3725],[71,-3666],[69.9,-3607],[70.7,-3678],[71.9,-3607],[73.1,-3607],[74,-3607],[74.9,-3725],[76.1,-3749],[77.5,-3754],[74.9,-3808],[75.8,-3820],[76.7,-3855],[77.3,-3867],[78.8,-3761],[80,-3784],[80.9,-3855],[81.7,-3855],[82.4,-3725],[80.9,-3713],[80.8,-3536],[78.2,-3394],[79.4,-3382],[77.9,-3524],[75.8,-3500],[74.9,-3453],[73.4,-3477],[72.5,-3536],[71.7,-3607],[70.2,-3595],[81.5,-4045],[80,-4033],[78.7,-4021],[77.3,-3986],[74.9,-3962],[74.1,-4080],[72.6,-4009],[71.3,-4057],[80.9,-4104],[81.8,-4163],[82.7,-4128]];

const upperOld: number[][] = [[115.3,-860],[115.6,-1300],[115.2,-1503],[116.3,-1503],[117.2,-1503],[117.8,-1503],[110.9,-1604],[116.2,-1604],[105.3,-1933],[103.7,-2109],[103.2,-2157],[103.5,-2157],[105.3,-2109],[107.5,-2085],[113.9,-2090],[114.8,-2090],[114.5,-2150],[115.2,-2150],[118,-2133],[84.7,-2225],[125.4,-2206],[105.3,-2271],[107.7,-2271],[107.9,-2271],[84,-2368],[83.5,-2397],[83,-2397],[101.5,-2406],[102.1,-2392],[102.4,-2443],[107.1,-2411],[85.7,-2433],[116.3,-2433],[105.7,-2457],[105.8,-2469],[117.8,-2462],[118.4,-2512],[110.7,-2503],[113.2,-2488],[94.6,-2532],[97.4,-2532],[83.8,-2549],[84.9,-2544],[116,-2546],[116.4,-2546],[115.8,-2580],[83.3,-2587],[109.9,-2583],[116.5,-2602],[117,-2602],[102.1,-2619],[97.4,-2629],[110.7,-2633],[111.9,-2643],[85,-2633],[114.7,-2636],[113.2,-2655],[115.4,-2665],[83.7,-2670],[106.2,-2633],[104.8,-2672],[105.2,-2672],[105.6,-2672],[91.4,-2679],[91.3,-2723],[91.7,-2759],[91.4,-2771],[91.4,-2815],[107.1,-2694],[85.4,-2711],[108.8,-2725],[113.4,-2725],[114.8,-2745],[116,-2745],[118.2,-2730],[100.4,-2740],[102,-2730],[102.5,-2730],[103,-2740],[105.3,-2749],[84.6,-2771],[86.5,-2776],[86.8,-2776],[109.1,-2776],[109.7,-2776],[121.4,-2776],[123.8,-2776],[97.3,-2827],[110,-2841],[116.8,-2822],[118.7,-2834],[116.3,-2872],[102.6,-2865],[100.7,-2887],[101.1,-2887],[91.4,-2904],[91.4,-2952],[91.4,-2976],[83.3,-2928],[84.1,-2921],[121.4,-2933],[90,-2960],[90.2,-2940],[101.2,-2967],[84.1,-2976],[84,-3008],[97.7,-2972],[124.5,-2984],[86.3,-3001],[86.8,-3025],[116.9,-2989],[102.8,-3013],[102.5,-3013],[117.7,-3018],[117.4,-3032],[90.4,-3027],[96.8,-3039],[106.7,-3032],[106.7,-3085],[104.5,-3051],[105,-3051],[105.1,-3085],[100.7,-3054],[116,-3063],[116.9,-3083],[84.1,-3085],[84.7,-3085],[85.1,-3061],[85.8,-3080],[86.2,-3080],[87,-3078],[90.6,-3080],[90.8,-3121],[91.1,-3158],[91.5,-3063],[91.4,-3182],[100,-3100],[98.1,-3114],[102.1,-3124],[107.9,-3097],[108.1,-3124],[116.4,-3124],[117.2,-3133],[117.7,-3133],[83.5,-3182],[84,-3133],[106.3,-3160],[103.5,-3177],[107.8,-3175],[108.8,-3189],[109.8,-3201],[96.2,-3194],[97.9,-3221],[98.9,-3216],[99.9,-3216],[121.4,-3182],[105.4,-3221],[116.3,-3225],[117.9,-3230],[118.4,-3235],[114.8,-3242],[110.4,-3262],[112.2,-3262],[112.5,-3262],[117.8,-3262],[120.3,-3254],[105.3,-3276],[84.5,-3254],[91.4,-3281],[103.8,-3317],[108.7,-3324],[109.1,-3324],[113.2,-3317],[116.5,-3327],[118.2,-3310],[118.6,-3319],[121.4,-3310],[84.3,-3332],[93,-3332],[90.7,-3332],[91,-3351],[86.1,-3356],[98.2,-3356],[106.8,-3356],[114.6,-3356],[115.5,-3356]];

const midOld: number[][] = [[83.7,-3389],[84.8,-3417],[86.3,-3382],[85.9,-3436],[84.2,-3477],[85,-3465],[85.9,-3495],[84.8,-3524],[83.5,-3540],[84.8,-3571],[83.8,-3588],[89.7,-3417],[89.6,-3453],[93.8,-3432],[90.3,-3576],[96.4,-3548],[99.5,-3569],[96.7,-3664],[97.4,-3664],[103.3,-3398],[104,-3398],[104.7,-3398],[105.4,-3405],[106.1,-3398],[107,-3403],[107.4,-3469],[108.2,-3500],[105.6,-3488],[106.8,-3559],[107.8,-3576],[106.8,-3619],[106,-3621],[107.7,-3638],[108.4,-3635],[102.9,-3548],[103.3,-3548],[109.7,-3493],[112.6,-3477],[113.1,-3531],[113.8,-3507],[115.4,-3524],[116.1,-3512],[116.8,-3488],[115.5,-3559],[116.4,-3571],[117.4,-3555],[118.1,-3488],[117.7,-3555],[121,-3488],[119.8,-3635],[120.5,-3635],[122,-3694],[123,-3716],[124.5,-3716],[116.9,-3702],[117.7,-3666],[118.2,-3666],[117.8,-3773],[118.3,-3706],[103.3,-3720],[103.9,-3702],[105.5,-3756],[109.1,-3737],[109.5,-3761],[108.2,-3777],[108.8,-3777],[100.8,-3773],[113.1,-3713],[113,-3761],[113,-3832],[112.7,-3832],[113.2,-3832],[106.8,-3801],[101.4,-3844],[102.2,-3836],[102.8,-3836],[103.5,-3867],[102.7,-3903],[102.1,-3934],[108.9,-3855],[109.5,-3855],[110.2,-3867],[110.9,-3886],[111.7,-3903],[110.1,-3910],[106.9,-3886],[113.7,-3903],[113.7,-3938],[114,-3986],[112.9,-3931],[113.3,-3990],[114.9,-3813],[115.2,-3844],[116.1,-3796],[116.1,-3855],[117.1,-3808],[117,-3855],[115.7,-3934],[116.4,-3934],[117.1,-3919],[118,-3950],[118.6,-3962],[118.9,-4000],[118.8,-3820],[118.5,-3896],[120.3,-3926],[121.4,-3962],[121.8,-3962],[122.7,-3891],[124.2,-3867],[124.4,-3896],[123.4,-3998],[122.7,-4028],[106.7,-3993],[107.5,-4033],[108.7,-3974],[109.4,-3974],[109.1,-4045],[108.5,-4057],[109.6,-4057],[109.8,-4057],[108.2,-4080],[107.4,-4104],[107.7,-4128],[106.8,-4140],[115.1,-4033],[116.3,-4069],[116.7,-4092],[116.4,-4132],[117.7,-4109],[118.1,-4109],[114.4,-4109],[120.3,-4118],[122.7,-4092],[122.4,-4163],[123.1,-4175],[120.5,-4204],[118.6,-4163],[119.2,-4187],[118.5,-4199],[119.2,-4246],[118.8,-4270],[117.4,-4215],[117.5,-4251],[117.5,-4298],[114.6,-4204],[114.4,-4234],[113.6,-4260],[116,-4258],[115.1,-4282],[116,-4293],[116.3,-4329],[112,-4282],[111.3,-4163],[110.5,-4140],[110.6,-4187],[109.9,-4230],[110.6,-4246],[108.3,-4211],[110.4,-4301],[110.1,-4353],[110.9,-4360],[110.1,-4388],[110.6,-4412],[111.6,-4412],[112.7,-4393],[112.3,-4471],[92.7,-4720],[85.6,-3773],[85.1,-3832],[89.3,-3851],[87.9,-3867],[88.7,-3943],[89.6,-3950],[87.7,-3962],[86.6,-3986],[87.5,-4080],[87.7,-4163],[90.5,-4542],[91.3,-4530],[92.2,-4649],[93.1,-4637],[93.8,-4590],[94.8,-4601],[94.3,-4530],[95,-4530],[96,-4483],[96.7,-4400],[98.3,-4436],[99.8,-4436],[101,-4388],[91.4,-4388],[92.7,-4424],[93.5,-4412],[94.1,-4459],[92,-4471]];

const deepYoung: number[][] = [[1.1,-4064],[1.9,-4052],[1.7,-4076],[1.5,-4151],[2.7,-4114],[4.1,-4043],[5.6,-4087],[6.1,-4064],[5.6,-4166],[6.1,-4166],[2.4,-4286],[2.9,-4310],[3.9,-4277],[3.9,-4310],[6.8,-4277],[5.4,-4346],[5.4,-4376],[8.1,-4289],[7.8,-4346],[7.7,-4400],[8.3,-4372],[9,-4376],[9.5,-4329],[8.6,-4246],[8.9,-4305],[8.3,-4466],[7.5,-4559],[8.4,-4580],[9.7,-4656],[9.3,-4798],[9.4,-4893],[10.4,-4376],[11.3,-4447],[11.8,-4436],[12.3,-4471],[11,-4537],[11.6,-4507],[11.5,-4547],[12.3,-4554],[12.8,-4585],[13.1,-4530],[13.9,-4542],[14,-4590],[13.4,-4625],[14,-4637],[11.1,-4665],[11.5,-4665],[12.1,-4696],[13,-4715],[12.8,-4760],[13.3,-4803],[13.5,-4822],[14.1,-4796],[13.6,-4680],[14,-4684],[14.7,-4665],[14.3,-4739],[12.5,-4900],[13.1,-4961],[13.5,-4957],[13.3,-4980],[15.5,-4594],[15.7,-4677],[15.8,-4743],[16.6,-4725],[17.5,-4720],[18.2,-4715],[16.6,-4791],[16,-4831],[17,-4822],[16.7,-4857],[16.1,-4886],[17.1,-4919],[16.3,-4959],[17.5,-4975],[17.3,-5028],[17.8,-5028],[18.3,-5009],[18.6,-5018],[14.5,-5063],[16.3,-5063],[13.1,-5125],[15.5,-5129],[15.8,-5129],[16.6,-5125],[17,-5125],[18.3,-5125],[16.7,-5189],[19.1,-5163],[19.5,-5163],[19.2,-5215],[18.2,-5241],[18.6,-5241],[18.3,-5295],[16.7,-5316],[13.7,-5286],[20,-5286],[19.5,-5324],[19.3,-5335],[19.1,-5385],[13.9,-5421],[14.8,-5402],[14.2,-5463],[15.5,-5463],[16.1,-5402],[17,-5418],[17.5,-5466],[18.2,-5468],[18.5,-5442],[18.5,-5470],[13.8,-5549],[19.1,-5549],[19.2,-5610],[19.8,-5608],[19.6,-5660],[14.3,-5762],[19,-5705],[19.5,-5762],[14.6,-5923],[15.2,-5968],[15.2,-5998],[19.5,-5923],[19,-5970],[19.1,-5998],[19,-4715],[19.5,-4720],[20.2,-4725],[19.1,-4807],[20.2,-4803],[21.3,-4720],[21,-4791],[21.7,-4784],[22.5,-4755],[23.1,-4803],[23.8,-4755],[24.6,-4767],[25.2,-4814],[26.1,-4814],[26.5,-4862],[22,-4841],[21.4,-4876],[20.4,-4867],[21,-4909],[21.3,-4952],[19.5,-4886],[19.9,-4886],[19,-4940],[19.5,-4961],[19.9,-4961],[22.2,-4926],[24.1,-4836],[25.6,-4867],[26.8,-4921],[26.8,-4945],[27.9,-4933],[23.1,-4952],[23.5,-4957],[24.1,-4928],[24.8,-4987],[25.6,-4992],[23.2,-5020],[23.9,-5009],[24.7,-5028],[25.5,-5021],[26.6,-4987],[27.2,-5016],[26.6,-5051],[19.8,-5028],[19.3,-5035],[20.4,-5023],[20.5,-5063],[20.8,-5051],[22.1,-5106],[21.5,-5127],[23,-5099],[22.8,-5127],[24.5,-5089],[25.1,-5134],[25.7,-5125],[23.8,-5189],[24.3,-5189],[25,-5205],[26.1,-5189],[25.6,-5205],[23.9,-5236],[24.8,-5236],[22.1,-5215],[22.3,-5253],[22.1,-5307],[22.5,-5300],[24.5,-5307],[23.8,-5331],[28.1,-5106],[29,-5096],[28.5,-5151],[29.5,-5174],[29.2,-5200],[29.1,-5300],[30.5,-5125],[31.2,-5151],[32,-5151],[30.2,-5264],[30.9,-5264],[31.4,-5312],[32.3,-5340],[32.1,-5264],[33.3,-5217],[34.2,-5193],[34.7,-5241],[33.8,-5288],[34.2,-5378],[35,-5371],[35.6,-5359],[32.5,-5459],[33.1,-5499],[31.5,-5518],[32,-5525],[32.2,-5669],[32.5,-5669],[30.6,-5695],[32.3,-5837],[30.2,-5939],[30.5,-5932],[35.7,-5591],[0.6,-3713],[1,-3784],[1.4,-3862],[2.4,-3950],[3,-3950],[4.1,-3926],[5,-3957],[0.4,-3654]];

const deepMid: number[][] = [[48.2,-6235],[48.8,-6235],[50,-6017],[37.3,-5939],[39.9,-5939],[58.4,-5939],[45,-5987],[45.3,-5987],[45.9,-5987],[46.9,-5987],[57.6,-5856],[46.1,-5880],[46.4,-5852],[47.5,-5852],[47.7,-5880],[73.7,-5873],[75.1,-5873],[75.1,-5951],[76.5,-5951],[76.9,-6013],[77.1,-6013],[77.5,-5873],[77.6,-5837],[77.1,-5790],[68.3,-5837],[68.1,-5814],[60.3,-5816],[61,-5816],[61.9,-5797],[72.2,-5771],[44.7,-5757],[45.2,-5757],[46.1,-5773],[46.4,-5785],[49,-5762],[49.6,-5776],[49.7,-5776],[56.3,-5719],[56.9,-5724],[56.9,-5655],[57.9,-5719],[58.3,-5738],[57.7,-5627],[58.2,-5667],[58.8,-5698],[58.9,-5648],[59.7,-5631],[59.5,-5698],[60.6,-5631],[61,-5589],[60.4,-5702],[61.2,-5702],[60.4,-5762],[61.6,-5643],[62.4,-5643],[61.9,-5714],[62.4,-5714],[66,-5667],[66,-5714],[66.7,-5643],[66.9,-5721],[67.8,-5643],[67.5,-5702],[68.1,-5750],[68.6,-5762],[68.8,-5655],[66.3,-5584],[67.2,-5584],[67.9,-5572],[73.3,-5709],[71.5,-5691],[74.9,-5660],[75.8,-5650],[76.5,-5705],[76.7,-5596],[77.3,-5648],[70.2,-5603],[39.3,-5620],[39.8,-5620],[39.2,-5560],[39.9,-5537],[38.9,-5461],[39.4,-5489],[36,-5589],[38.2,-5378],[41.6,-5572],[41.5,-5525],[41.9,-5461],[41,-5466],[40.4,-5489],[42.8,-5406],[43.1,-5466],[43,-5560],[43.8,-5560],[43.5,-5501],[44.2,-5627],[44.6,-5660],[45,-5572],[44.7,-5501],[46.1,-5660],[46.5,-5620],[47.3,-5679],[47.8,-5684],[48.5,-5684],[49.3,-5667],[48.7,-5596],[49.9,-5596],[50.5,-5620],[52,-5667],[52.2,-5695],[52.6,-5631],[51.2,-5537],[53.3,-5513],[54.1,-5513],[53.4,-5601],[54.6,-5627],[55.6,-5549],[56.7,-5520],[57.4,-5537],[47.1,-5513],[47.7,-5525],[48.7,-5454],[51.7,-5501],[52.6,-5489],[37.5,-5335],[36.7,-5335],[35.8,-5371],[39.6,-5406],[40,-5359],[41.3,-5395],[42.8,-5347],[79.9,-5679],[80.9,-5750],[80.9,-5814],[81.4,-5781],[82.6,-5714]];

const deepOld: number[][] = [[92.4,-6043],[108.2,-5918],[93.9,-5937],[94.7,-5937],[100.8,-5866],[90.4,-5887],[91.6,-5887],[95.3,-5908],[99.1,-5849],[96.2,-5868],[92.9,-5852],[93.8,-5856],[94.9,-5856],[97.2,-5821],[113.5,-5833],[114.3,-5845],[114.6,-5809],[105.2,-5828],[108.2,-5833],[107.8,-5774],[108.8,-5809],[115.7,-5750],[110.7,-5785],[109.8,-5785],[102.9,-5738],[87.5,-5809],[87.5,-5738],[88.7,-5833],[84.7,-5762],[84,-5762],[85.9,-5719],[86.6,-5702],[83.4,-5738],[119.4,-5797],[119.8,-5774],[117.8,-5738],[122.7,-5726],[123.6,-5726],[121,-5738],[125.4,-5731],[117.1,-5695],[116.4,-5655],[110.9,-5643],[106.7,-5726],[104,-5762],[100.4,-5809],[98.7,-5797],[112.7,-5809],[111.6,-5714],[112.3,-5691],[109.1,-5714],[118.9,-5714]];

const allOutliers = [edgeFuzz, shallowYoung, shallowMid, fluffYoung, fringeB1, fringeB2, fringeC1, fringeC2, fringeD, fringeE, fringeF, topMid, upperMid, clusterMid, fringeMid, upperOld, midOld, deepYoung, deepMid, deepOld];

const BLUE = "#1f77b4";
const FONT = { family: "'DejaVu Sans'", size: 27.8 };

const framePlugin = {
  id: "frame",
  afterDatasetsDraw(chart: any) {
    const { ctx, chartArea: a } = chart;
    ctx.save();
    ctx.strokeStyle = "#000";
    ctx.lineWidth = 2.2;
    ctx.strokeRect(a.left, a.top, a.right - a.left, a.bottom - a.top);
    ctx.restore();
  },
};

const pts = (xs: number[], ys: number[]) => xs.map((x, i) => ({ x, y: ys[i] }));

export default function App() {
  const ref = useRef<HTMLCanvasElement>(null);
  useEffect(() => {
    document.body.style.margin = "0";
    const bandLine = { showLine: true, pointRadius: 0, borderColor: BLUE, backgroundColor: BLUE, borderWidth: 3, borderJoinStyle: "round", tension: 0, clip: 0 };
    const chart = new Chart(ref.current as HTMLCanvasElement, {
      type: "scatter",
      data: {
        datasets: [
          { ...bandLine, data: pts(bandAges, bandUpper), fill: "+1" },
          { ...bandLine, data: pts(bandAges, bandLower), fill: false },
          { ...bandLine, data: pts(edgeAges, edgeUpper), fill: "+1" },
          { ...bandLine, data: pts(edgeAges, edgeLower), fill: false },
          { ...bandLine, data: pts(capAges, capUpper), fill: "+1" },
          { ...bandLine, data: pts(capAges, capLower), fill: false },
          {
            data: allOutliers.flat().map(([x, y]) => ({ x, y })),
            pointRadius: 5.8,
            pointBorderWidth: 0,
            pointBackgroundColor: BLUE,
            backgroundColor: BLUE,
            clip: 0,
          },
        ],
      } as any,
      plugins: [framePlugin],
      options: {
        responsive: false,
        devicePixelRatio: 1,
        animation: false,
        events: [],
        layout: { padding: { left: 0, right: 20, top: 19, bottom: 0 } },
        plugins: { legend: { display: false }, tooltip: { enabled: false } },
        scales: {
          x: {
            type: "linear",
            min: 0,
            max: 125.7,
            afterFit(s: any) { s.height = 107; s.paddingLeft = 0; s.paddingRight = 0; },
            afterBuildTicks(s: any) { s.ticks = xTickValues.map((value) => ({ value })); },
            border: { display: false },
            grid: { color: "#b0b0b0", lineWidth: 2.2, tickColor: "#000", tickLength: 9.7, tickWidth: 2.2 },
            ticks: { stepSize: 20, includeBounds: false, maxRotation: 0, autoSkip: false, color: "#000", font: FONT, padding: 9 },
            title: { display: true, text: xTitle, color: "#000", font: FONT, padding: { top: 0, bottom: 17 } },
          },
          y: {
            type: "linear",
            min: -6542,
            max: 322,
            afterFit(s: any) { s.width = 172; s.paddingTop = 0; s.paddingBottom = 0; },
            afterBuildTicks(s: any) { s.ticks = yTickValues.map((value) => ({ value })); },
            border: { display: false },
            grid: { color: "#b0b0b0", lineWidth: 2.2, tickColor: "#000", tickLength: 9.7, tickWidth: 2.2 },
            ticks: {
              includeBounds: false,
              autoSkip: false,
              color: "#000",
              font: FONT,
              padding: 9,
              callback: (v: any) => String(v).replace("-", "\u2212"),
            },
            title: { display: true, text: yTitle, color: "#000", font: FONT, padding: { top: 14, bottom: 0 } },
          },
        },
      } as any,
    });
    return () => chart.destroy();
  }, []);
  return <canvas ref={ref} width={2052} height={1485} style={{ display: "block", width: 2052, height: 1485 }} />;
}
